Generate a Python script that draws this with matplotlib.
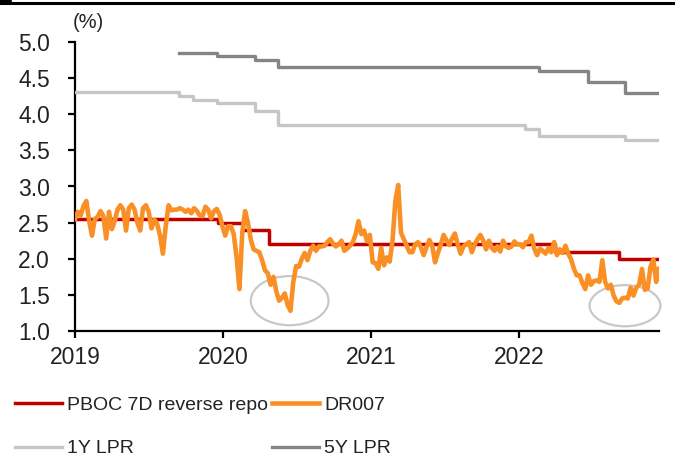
import matplotlib
matplotlib.use("Agg")
import matplotlib.pyplot as plt
import matplotlib.dates as mdates
from matplotlib.patches import Ellipse
from matplotlib.lines import Line2D
import pandas as pd

plt.rcParams['font.family'] = ['Liberation Sans', 'DejaVu Sans']

# ---------------- data ----------------
dr007 = [2.55, 2.65, 2.60, 2.73, 2.80, 2.52, 2.32, 2.55, 2.58, 2.66,
         2.59, 2.28, 2.65, 2.41, 2.52, 2.68, 2.74, 2.68, 2.39, 2.70,
         2.75, 2.68, 2.50, 2.39, 2.70, 2.74, 2.65, 2.42, 2.54, 2.48,
         2.32, 2.07, 2.45, 2.74, 2.67, 2.68, 2.68, 2.70, 2.68, 2.65,
         2.68, 2.63, 2.70, 2.66, 2.60, 2.59, 2.72, 2.68, 2.56, 2.66,
         2.69, 2.61, 2.45, 2.32, 2.45, 2.45, 2.34, 2.02, 1.58, 2.36,
         2.66, 2.50, 2.27, 2.13, 2.11, 2.09, 1.98, 1.84, 1.80, 1.64,
         1.75, 1.55, 1.42, 1.46, 1.52, 1.36, 1.28, 1.68, 1.90, 1.89,
         2.00, 2.08, 1.98, 2.11, 2.18, 2.11, 2.17, 2.17, 2.18, 2.23,
         2.27, 2.21, 2.17, 2.20, 2.25, 2.11, 2.14, 2.18, 2.23, 2.34,
         2.52, 2.34, 2.39, 2.24, 2.33, 1.95, 1.94, 1.86, 2.15, 1.91,
         2.02, 1.96, 2.25, 2.80, 3.02, 2.36, 2.27, 2.18, 2.09, 2.09,
         2.20, 2.23, 2.16, 2.05, 2.16, 2.26, 2.18, 1.95, 2.08, 2.19,
         2.33, 2.26, 2.19, 2.28, 2.35, 2.20, 2.07, 2.17, 2.20, 2.23,
         2.09, 2.20, 2.27, 2.33, 2.25, 2.13, 2.25, 2.15, 2.11, 2.17,
         2.10, 2.25, 2.17, 2.15, 2.17, 2.24, 2.20, 2.20, 2.16, 2.23,
         2.23, 2.32, 2.14, 2.05, 2.14, 2.11, 2.07, 2.15, 2.09, 2.23,
         2.05, 2.13, 2.08, 2.18, 2.07, 1.99, 1.86, 1.77, 1.77, 1.66,
         1.58, 1.77, 1.64, 1.69, 1.70, 1.68, 1.98, 1.68, 1.59, 1.64,
         1.49, 1.41, 1.39, 1.45, 1.46, 1.45, 1.60, 1.49, 1.60, 1.64,
         1.86, 1.57, 1.59, 1.89, 1.99, 1.68, 1.86]
dr007_dates = pd.date_range('2019-01-01', periods=len(dr007), freq='7D')
end_date = dr007_dates[-1]

repo_dates = ['2019-01-01', '2019-12-20', '2020-02-20', '2020-04-25', '2022-04-01', '2022-09-05']
repo_vals = [2.55, 2.50, 2.40, 2.20, 2.10, 2.00]

lpr1_dates = ['2019-01-01', '2019-09-16', '2019-10-19', '2019-12-17', '2020-03-20',
              '2020-05-16', '2022-01-15', '2022-02-20', '2022-09-19']
lpr1_vals = [4.31, 4.25, 4.20, 4.15, 4.05, 3.85, 3.80, 3.70, 3.65]

lpr5_dates = ['2019-09-16', '2019-12-17', '2020-03-20', '2020-05-16', '2022-02-20',
              '2022-06-20', '2022-09-19']
lpr5_vals = [4.85, 4.80, 4.75, 4.65, 4.60, 4.45, 4.30]

year_ticks = ['2019-01-01', '2020-01-01', '2021-01-01', '2022-01-01']
year_labels = ['2019', '2020', '2021', '2022']
y_ticks = [1.0, 1.5, 2.0, 2.5, 3.0, 3.5, 4.0, 4.5, 5.0]

# highlight ellipses: (center date, center value, width days, height)
ellipses = [('2020-06-14', 1.42, 192, 0.68), ('2022-09-20', 1.35, 175, 0.57)]


def step_series(dates, vals):
    d = list(pd.to_datetime(dates)) + [end_date]
    v = list(vals) + [vals[-1]]
    return d, v


# ---------------- figure ----------------
fig = plt.figure(figsize=(6.75, 4.61), dpi=100)
ax = fig.add_axes([75/675, 1-331/461, 584/675, 289/461])

c_red = '#C00000'
c_orange = '#FA9025'
c_light = '#C6C6C6'
c_dark = '#858585'

d, v = step_series(repo_dates, repo_vals)
l_repo, = ax.plot(d, v, drawstyle='steps-post', color=c_red, lw=2.5, zorder=3,
                  label='PBOC 7D reverse repo')
l_dr, = ax.plot(dr007_dates, dr007, color=c_orange, lw=3.3, zorder=4, label='DR007',
                solid_joinstyle='round')
d, v = step_series(lpr1_dates, lpr1_vals)
l_1y, = ax.plot(d, v, drawstyle='steps-post', color=c_light, lw=2.4, zorder=3, label='1Y LPR')
d, v = step_series(lpr5_dates, lpr5_vals)
l_5y, = ax.plot(d, v, drawstyle='steps-post', color=c_dark, lw=2.4, zorder=3, label='5Y LPR')

for cd, cv, w, h in ellipses:
    e = Ellipse((mdates.date2num(pd.Timestamp(cd)), cv), w, h, fill=False,
                edgecolor='#C8C8C8', lw=1.6, zorder=2, clip_on=False)
    ax.add_patch(e)

ax.set_xlim(pd.Timestamp('2019-01-01'), end_date)
ax.set_ylim(1.0, 5.0)
ax.set_yticks(y_ticks)
ax.set_yticklabels([f'{t:.1f}' for t in y_ticks])
ax.set_xticks(pd.to_datetime(year_ticks))
ax.set_xticklabels(year_labels)

for s in ['top', 'right']:
    ax.spines[s].set_visible(False)
for s in ['left', 'bottom']:
    ax.spines[s].set_linewidth(1.6)
    ax.spines[s].set_color('black')
ax.tick_params(axis='y', direction='out', length=5, width=1.6, pad=13, labelsize=16.5,
               colors='black', labelcolor='#222222')
ax.tick_params(axis='x', direction='out', length=5, width=1.6, pad=6, labelsize=16.5,
               colors='black', labelcolor='#222222')

fig.text(88/675, 1-22/461, '(%)', ha='center', va='center', fontsize=14.5, color='#222222')

leg = fig.legend(handles=[l_repo, l_1y, l_dr, l_5y], ncol=2, frameon=False,
                 loc='upper left', bbox_to_anchor=(15/675, 1-396/461),
                 fontsize=14, handlelength=2.4, handletextpad=0.25,
                 columnspacing=0.25, labelspacing=1.35, borderpad=0, borderaxespad=0)
for t in leg.get_texts():
    t.set_color('#222222')

# top frame line
fig.add_artist(Line2D([0, 673/675], [1-3/461, 1-3/461], transform=fig.transFigure,
                      color='black', lw=2.2))
fig.add_artist(Line2D([0, 9/675], [1-2/461, 1-2/461], transform=fig.transFigure,
                      color='black', lw=4))

fig.savefig('out.png', dpi=100)
